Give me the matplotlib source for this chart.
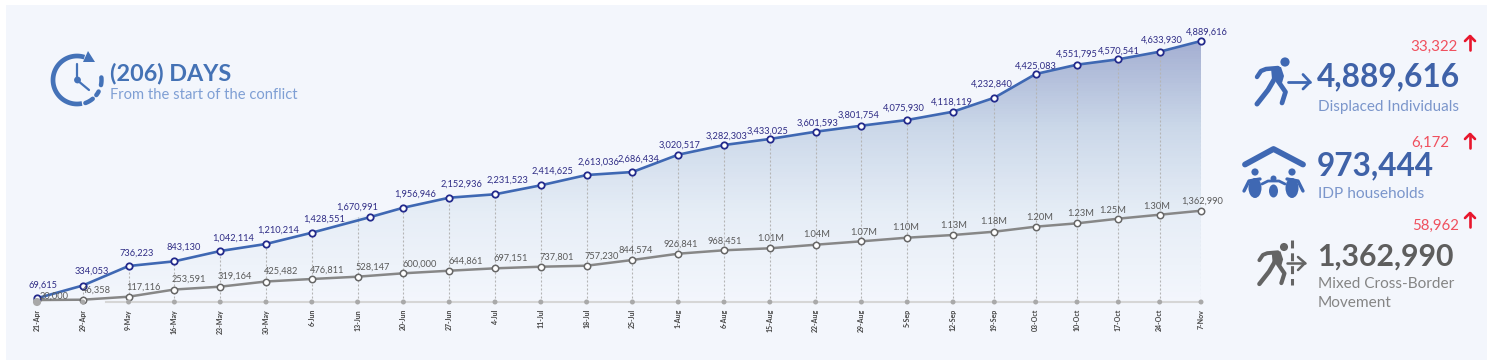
import numpy as np
import matplotlib
matplotlib.use("Agg")
import matplotlib.pyplot as plt
from matplotlib.colors import LinearSegmentedColormap
from matplotlib.patches import Circle, Ellipse, Polygon, Rectangle

plt.rcParams['font.family'] = ['Lato', 'DejaVu Sans']

dates = ['21-Apr', '29-Apr', '9-May', '16-May', '23-May', '30-May', '6-Jun', '13-Jun', '20-Jun',
         '27-Jun', '4-Jul', '11-Jul', '18-Jul', '25-Jul', '1-Aug', '6-Aug', '15-Aug', '22-Aug',
         '29-Aug', '5-Sep', '12-Sep', '19-Sep', '03-Oct', '10-Oct', '17-Oct', '24-Oct', '7-Nov']

# printed labels, the lines in the picture do not follow them exactly
# so the heights below are read off the picture on their own
displaced_labels = ['69,615', '334,053', '736,223', '843,130', '1,042,114', '1,210,214', '1,428,551',
                    '1,670,991', '1,956,946', '2,152,936', '2,231,523', '2,414,625', '2,613,036',
                    '2,686,434', '3,020,517', '3,282,303', '3,433,025', '3,601,593', '3,801,754',
                    '4,075,930', '4,118,119', '4,232,840', '4,425,083', '4,551,795', '4,570,541',
                    '4,633,930', '4,889,616']
border_labels = ['20,000', '46,358', '117,116', '253,591', '319,164', '425,482', '476,811', '528,147',
                 '600,000', '644,861', '697,151', '737,801', '757,230', '844,574', '926,841', '968,451',
                 '1.01M', '1.04M', '1.07M', '1.10M', '1.13M', '1.18M', '1.20M', '1.23M', '1.25M',
                 '1.30M', '1,362,990']

displaced = [70000, 309000, 674000, 762000, 955000, 1087000, 1298000, 1587000, 1767000,
             1954000, 2018000, 2186000, 2379000, 2435000, 2760000, 2941000, 3054000, 3190000,
             3303000, 3410000, 3565000, 3827000, 4271000, 4446000, 4547000, 4689000, 4889616]
border = [37000, 43000, 99000, 234000, 287000, 384000, 431000, 474000, 538000,
          586000, 631000, 661000, 680000, 787000, 905000, 969000, 1006000, 1073000,
          1137000, 1205000, 1255000, 1317000, 1411000, 1474000, 1561000, 1635000, 1710000]

# label offsets in pixels (hand placed in the original)
blue_dx = [6, 9, 8, 9, 13, 12, 12, 0, 12, 12, 12, 12, 12, 6, 1, 3, -2, 2, -3, -3, -1, -3, 0, 0, 1, 2, 6]
blue_dy = [13, 14, 13, 14, 13, 14, 14, 10, 13, 14, 14, 14, 13, 13, 9, 9, 8, 9, 11, 12, 10, 14, 8, 10, 8, 12, 9]
grey_dx = [17, 14, 15, 14, 15, 15, 15, 15, 16, 16, 16, 16, 15, 3, 2, 1, 1, 1, 2, -2, 1, -1, 4, 4, -6, -3, 1]
grey_dy = [4, 10, 10, 10, 10, 10, 9, 10, 9, 10, 10, 10, 10, 10, 10, 9, 10, 10, 9, 10, 10, 10, 9, 10, 8, 8, 10]

BLUE = '#3f68b3'
NAVY = '#232a8c'
GREY = '#878787'
PANEL = '#f3f6fc'

fig = plt.figure(figsize=(14.92, 3.64), dpi=100)

# pixel canvas for the panel, text and icons
bg = fig.add_axes([0, 0, 1, 1], zorder=0)
bg.set_xlim(0, 1492)
bg.set_ylim(364, 0)
bg.axis('off')
bg.add_patch(Rectangle((6, 5), 1481, 355, color=PANEL, lw=0))

ax = fig.add_axes([37 / 1492, 62 / 364, 1164 / 1492, 261 / 364], zorder=1)
ax.patch.set_alpha(0)


# the date axis gets a bit tighter from 12-Sep on
def fwd(v):
    v = np.asarray(v, dtype=float)
    return np.where(v <= 20, v * 45.8, 916 + (v - 20) * 41.33)


def inv(p):
    p = np.asarray(p, dtype=float)
    return np.where(p <= 916, p / 45.8, 20 + (p - 916) / 41.33)


ax.set_xscale('function', functions=(fwd, inv))
idx = np.arange(len(dates))
blue_x = idx.astype(float)
blue_x[7] = 7.26  # this marker sits off its date in the original

ax.set_xlim(0, 26)
ax.set_ylim(0, 4889616)

# gradient under the top line
cmap = LinearSegmentedColormap.from_list('area', [PANEL, '#e6edf6', '#cbd8e9', '#a4afd2'])
edges = np.linspace(0, 4889616, 101)
grad = np.linspace(0, 1, 100).reshape(-1, 1)
mesh = ax.pcolormesh([0, 26], edges, grad, cmap=cmap, zorder=1)
outline = ax.fill_between(idx, 0, displaced, color='none')
mesh.set_clip_path(outline.get_paths()[0], transform=ax.transData)

ax.vlines(idx, 0, displaced, colors='#b4b4b4', linewidth=0.8, linestyles=(0, (1.8, 1.8)), zorder=2)
ax.plot([1.5, 26], [0, 0], color='#d6d6d6', lw=1.5, clip_on=False, zorder=2)

ax.plot(blue_x, displaced, color=BLUE, lw=1.9, marker='o', ms=4.6, mfc='white', mec=NAVY, mew=1.3,
        clip_on=False, zorder=4)
ax.plot(idx, border, color=GREY, lw=1.8, marker='o', ms=4.6, mfc='white', mec='#666666', mew=1.1,
        clip_on=False, zorder=3)

dot_sizes = [34] + [13] * 26
ax.scatter(idx, np.zeros(len(idx)), s=dot_sizes, color='#a9a9a9', lw=0, clip_on=False, zorder=5)

for i in range(len(dates)):
    ax.annotate(displaced_labels[i], (idx[i], displaced[i]), xytext=(blue_dx[i], blue_dy[i]),
                textcoords='offset pixels', ha='center', va='center', fontsize=6.7, color='#2f2c85',
                zorder=6, annotation_clip=False)
    ax.annotate(border_labels[i], (idx[i], border[i]), xytext=(grey_dx[i], grey_dy[i]),
                textcoords='offset pixels', ha='center', va='center', fontsize=6.7, color='#5a5a5a',
                zorder=6, annotation_clip=False)

ax.set_xticks(idx)
ax.set_xticklabels(dates, rotation=90, fontsize=5, fontweight='bold', color='#444444')
ax.tick_params(axis='x', length=0, pad=5)
ax.set_yticks([])
for s in ax.spines.values():
    s.set_visible(False)


################################### icons (pixel coords)
def stroke(xs, ys, color, lw, cap='round'):
    bg.plot(xs, ys, color=color, lw=lw, solid_capstyle=cap, solid_joinstyle='round')


def runner(ox, oy, k, color):
    # drawn around the head centre
    bg.add_patch(Circle((ox, oy), 4.6 * k, color=color, lw=0))
    stroke([ox - 28 * k, ox - 24 * k, ox - 19 * k, ox - 7 * k], [oy + 15 * k, oy + 9 * k, oy + 7 * k, oy + 6 * k], color, 3.2 * k)
    bg.add_patch(Polygon([[ox - 14 * k, oy + 6 * k], [ox - 4 * k, oy + 5 * k], [ox - 1 * k, oy + 14 * k],
                          [ox - 3 * k, oy + 21 * k], [ox - 13 * k, oy + 17 * k]], color=color, lw=0))
    stroke([ox - 10 * k, ox - 17 * k, ox - 28 * k], [oy + 16 * k, oy + 28 * k, oy + 42 * k], color, 3.6 * k)
    stroke([ox - 7 * k, ox + 0.5 * k, ox - 3 * k], [oy + 19 * k, oy + 30 * k, oy + 41 * k], color, 3.4 * k)


CLOCK = '#4472b8'
th = np.radians(np.linspace(-72, -282, 60))
stroke(77 + 24 * np.cos(th), 80 + 24 * np.sin(th), CLOCK, 3.4, cap='butt')
bg.add_patch(Polygon([[88, 51], [95, 62], [83, 62]], color=CLOCK, lw=0))
for a0, a1 in [(70, 50), (38, 28), (12, -6)]:
    dash = np.radians(np.linspace(a0, a1, 8))
    stroke(77 + 24.5 * np.cos(dash), 80 + 24.5 * np.sin(dash), CLOCK, 3.2)
stroke([77, 77], [64, 80], CLOCK, 1.6)
stroke([77, 89], [80, 90], CLOCK, 1.6)
bg.add_patch(Circle((77.5, 80), 3.4, color=CLOCK, lw=0))

runner(1285, 62, 1.0, BLUE)
stroke([1288, 1310], [82, 82], BLUE, 2.0)
stroke([1303, 1310, 1303], [74.5, 82, 89], BLUE, 2.0)

stroke([1245, 1273.5, 1303], [164.5, 149, 164.5], BLUE, 4.2)
for cx, r, w, h, cy in [(1255, 3.6, 13, 20, 188), (1273.5, 3.0, 9, 13, 191), (1292, 3.6, 13, 20, 188)]:
    bg.add_patch(Circle((cx, cy - h / 2 - 6), r, color=BLUE, lw=0))
    bg.add_patch(Ellipse((cx, cy), w, h, color=BLUE, lw=0))
stroke([1244, 1249, 1260], [191, 181, 179], BLUE, 2.4)
stroke([1303, 1298, 1287], [191, 181, 179], BLUE, 2.4)
stroke([1262, 1268, 1279, 1285], [184, 181, 181, 184], BLUE, 2.0)

DARK = '#646464'
runner(1284, 247, 0.88, DARK)
bg.plot([1292, 1292], [240, 285], color=DARK, lw=2.2, ls=(0, (2.6, 1.6)))
stroke([1287, 1305], [263, 263], DARK, 1.8)
stroke([1298, 1305, 1298], [257, 263, 270], DARK, 1.8)

RED = '#e8172d'
for top in [36, 134, 213]:
    stroke([1470, 1470], [top, top + 14], RED, 1.9)
    stroke([1465, 1470, 1475], [top + 5, top, top + 5], RED, 1.9)

################################### text
bg.text(110, 74, '(206) DAYS', fontsize=16.8, fontweight='bold', color='#4472b5', va='center')
bg.text(110, 95, 'From the start of the conflict', fontsize=10.6, color='#7f9fd4', va='center')

bg.text(1458, 47, '33,322', fontsize=10.8, color='#f0505e', ha='right', va='center')
bg.text(1317, 77, '4,889,616', fontsize=22.8, fontweight='bold', color='#3f62a8', va='center')
bg.text(1318, 107, 'Displaced Individuals', fontsize=11, color='#7b96cb', va='center')

bg.text(1449, 143, '6,172', fontsize=10.8, color='#f0505e', ha='right', va='center')
bg.text(1317, 166, '973,444', fontsize=22.8, fontweight='bold', color='#3f62a8', va='center')
bg.text(1318, 194, 'IDP households', fontsize=11.2, color='#7b96cb', va='center')

bg.text(1459, 226, '58,962', fontsize=10.8, color='#f0505e', ha='right', va='center')
bg.text(1317, 257, '1,362,990', fontsize=21.8, fontweight='bold', color='#5e5e5e', va='center')
bg.text(1318, 284, 'Mixed Cross-Border', fontsize=11.1, color='#858585', va='center')
bg.text(1318, 303, 'Movement', fontsize=11.1, color='#858585', va='center')

fig.savefig('out.png', dpi=100, facecolor='white')
